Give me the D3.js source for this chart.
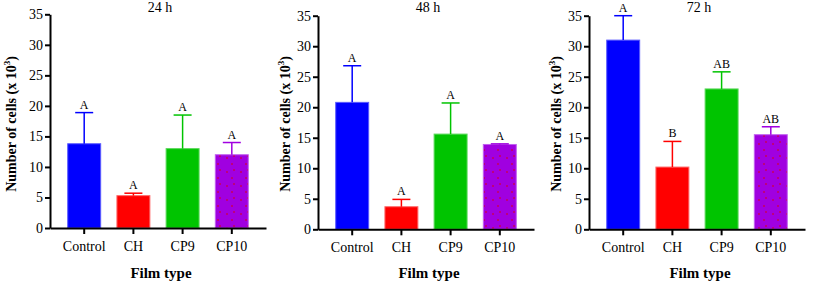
<!DOCTYPE html>
<html>
<head>
<meta charset="utf-8">
<script src="https://cdn.jsdelivr.net/npm/d3@7"></script>
<style>
  body { margin: 0; background: #fff; }
  svg { display: block; }
  svg text { font-family: "Liberation Serif", "Times New Roman", Times, serif; }
</style>
</head>
<body>
<script>
// Chart data
const filmTypes = ['Control', 'CH', 'CP9', 'CP10'];
const timePoints = ['24 h', '48 h', '72 h'];
const meanCells = [
    [13.8, 5.3, 13.0, 12.0],
    [20.8, 3.7, 15.6, 13.9],
    [31.0, 10.2, 23.0, 15.5]
];
const errCells = [
    [5.1, 0.4, 5.5, 2.0],
    [6.0, 1.2, 5.1, 0.1],
    [4.0, 4.2, 2.8, 1.3]
];
const sigLetters = [
    ['A', 'A', 'A', 'A'],
    ['A', 'A', 'A', 'A'],
    ['A', 'B', 'AB', 'AB']
];
const yTicks = [0, 5, 10, 15, 20, 25, 30, 35];

// Colours per film type
const fillColors = ['#0000ff', '#ff0000', '#00c400', '#a000e0'];
const edgeColors = ['#5a5aff', '#ff6a6a', '#5ad85a', '#c060f0'];

// Layout for the three panels
const width = 813, height = 284;
const panelX = [50, 318, 589];
const panelW = 216;
const yZero = [228, 229.3, 229.3];
const yTop = [14.3, 15.7, 15.7];
const labelOffset = [39, 33, 33];

const svg = d3.select('body').append('svg')
    .attr('width', width)
    .attr('height', height);

// Red dot pattern used inside CP10 bars
const defs = svg.append('defs');
const pat = defs.append('pattern')
    .attr('id', 'dots')
    .attr('patternUnits', 'userSpaceOnUse')
    .attr('width', 14)
    .attr('height', 14);
pat.append('rect').attr('width', 14).attr('height', 14).attr('fill', fillColors[3]);
pat.append('circle').attr('cx', 3).attr('cy', 4).attr('r', 0.8).attr('fill', '#e00000');
pat.append('circle').attr('cx', 10).attr('cy', 2).attr('r', 0.8).attr('fill', '#e00000');
pat.append('circle').attr('cx', 8).attr('cy', 10).attr('r', 0.8).attr('fill', '#e00000');

timePoints.forEach((title, p) => {
    const x0 = panelX[p];
    const g = svg.append('g');

    const x = d3.scaleBand()
        .domain(filmTypes)
        .range([x0, x0 + panelW])
        .paddingInner(0.33)
        .paddingOuter(0.36);

    const y = d3.scaleLinear()
        .domain([0, 35])
        .range([yZero[p], yTop[p]]);

    // Bars
    g.selectAll('rect.bar')
        .data(filmTypes)
        .enter()
        .append('rect')
        .attr('class', 'bar')
        .attr('x', d => x(d))
        .attr('width', x.bandwidth())
        .attr('y', (d, i) => y(meanCells[p][i]))
        .attr('height', (d, i) => y(0) - y(meanCells[p][i]))
        .attr('fill', (d, i) => i === 3 ? 'url(#dots)' : fillColors[i])
        .attr('stroke', (d, i) => edgeColors[i])
        .attr('stroke-width', 1);

    // Error bars (upper only)
    filmTypes.forEach((d, i) => {
        const cx = x(d) + x.bandwidth() / 2;
        const yMean = y(meanCells[p][i]);
        const yErr = y(meanCells[p][i] + errCells[p][i]);
        g.append('line')
            .attr('x1', cx).attr('x2', cx)
            .attr('y1', yMean).attr('y2', yErr)
            .attr('stroke', fillColors[i])
            .attr('stroke-width', 1.5);
        g.append('line')
            .attr('x1', cx - 9).attr('x2', cx + 9)
            .attr('y1', yErr).attr('y2', yErr)
            .attr('stroke', fillColors[i])
            .attr('stroke-width', 1.5);
        g.append('text')
            .attr('x', cx)
            .attr('y', yErr - 4)
            .attr('text-anchor', 'middle')
            .attr('font-size', 12)
            .attr('fill', '#000')
            .text(sigLetters[p][i]);
    });

    // Y axis
    const yAxis = g.append('g')
        .attr('transform', `translate(${x0},0)`)
        .call(d3.axisLeft(y).tickValues(yTicks).tickSize(5).tickPadding(2).tickSizeOuter(0));
    yAxis.attr('font-family', null);
    yAxis.select('.domain').attr('stroke', '#000').attr('stroke-width', 2);
    yAxis.selectAll('.tick line').attr('stroke', '#000').attr('stroke-width', 2);
    yAxis.selectAll('.tick text')
        .attr('font-size', 14)
        .attr('fill', '#000');

    // X axis
    const xAxis = g.append('g')
        .attr('transform', `translate(0,${yZero[p]})`)
        .call(d3.axisBottom(x).tickSize(6).tickPadding(7).tickSizeOuter(0));
    xAxis.attr('font-family', null);
    xAxis.select('.domain').attr('stroke', '#000').attr('stroke-width', 2);
    xAxis.selectAll('.tick line').attr('stroke', '#000').attr('stroke-width', 2);
    xAxis.selectAll('.tick text')
        .attr('font-size', 14)
        .attr('fill', '#000');

    // Panel title
    g.append('text')
        .attr('x', x0 + panelW / 2 + 2)
        .attr('y', 12)
        .attr('text-anchor', 'middle')
        .attr('font-size', 14)
        .text(title);

    // X axis title
    g.append('text')
        .attr('x', x0 + panelW / 2 + 3)
        .attr('y', 278)
        .attr('text-anchor', 'middle')
        .attr('font-size', 15)
        .attr('font-weight', 'bold')
        .text('Film type');

    // Y axis title with superscript
    const yl = g.append('text')
        .attr('transform', `translate(${x0 - labelOffset[p] + 5},124) rotate(-90)`)
        .attr('text-anchor', 'middle')
        .attr('font-size', 14)
        .attr('font-weight', 'bold');
    yl.append('tspan').text('Number of cells (x 10');
    yl.append('tspan').attr('font-size', 9).attr('dy', -6).text('3');
    yl.append('tspan').attr('dy', 6).text(')');
});
</script>
</body>
</html>
